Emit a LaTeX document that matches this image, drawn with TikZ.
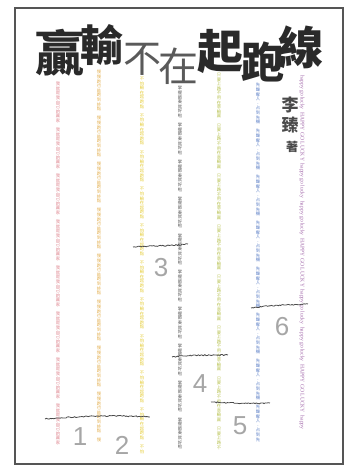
\documentclass[tikz,border=0pt]{standalone}
\usepackage{fontspec}
\setmainfont{Liberation Serif}
\newfontfamily\cjk{Noto Sans CJK TC}
\newfontfamily\numfont{Liberation Sans}
\usetikzlibrary{decorations.pathmorphing}
\definecolor{titledark}{HTML}{2A2A2A}
\definecolor{titlelight}{HTML}{5A5A5A}
\definecolor{frame}{HTML}{555555}
\definecolor{cred}{HTML}{DE828C}
\definecolor{corange}{HTML}{E4B050}
\definecolor{cyellow}{HTML}{E6CE3C}
\definecolor{cdark}{HTML}{555555}
\definecolor{cgreen}{HTML}{B8C250}
\definecolor{cblue}{HTML}{5A7EC6}
\definecolor{cpurple}{HTML}{A66EAE}
\definecolor{numgray}{HTML}{A6A6A6}
\definecolor{pencil}{HTML}{4A4A4A}
% stack characters one under another
\def\vsloop#1{\ifx\relax#1\else\hbox to 4.6pt{\hss#1\hss}\expandafter\vsloop\fi}
\newcommand\colstack[3]{\vbox{\baselineskip=4.6pt\lineskiplimit=-20pt\lineskip=0pt
  \foreach \k in {1,...,#1}{\vsloop #2\relax}\vsloop #3\relax}}
\tikzset{
  ttl/.style={inner sep=0pt, font=\cjk\bfseries\fontsize{#1}{#1}\selectfont, text=titledark},
  ttllight/.style={inner sep=0pt, font=\cjk\fontsize{#1}{#1}\selectfont, text=titlelight},
  author/.style={inner sep=0pt, font=\cjk\bfseries\fontsize{#1}{#1}\selectfont, text=titledark!85},
  col/.style={inner sep=0pt, anchor=north,
    font=\cjk\fontsize{4.3}{4.6}\selectfont, text=#1},
  num/.style={inner sep=0pt, font=\numfont\fontsize{26}{26}\selectfont, text=numgray},
  scrib/.style={draw=pencil, line width=0.8pt, decorate,
    decoration={random steps, segment length=1.3pt, amplitude=0.55pt}},
}
\begin{document}
\begin{tikzpicture}[x=1pt,y=-1pt]
\useasboundingbox (0,0) rectangle (347,466);
\fill[white] (0,0) rectangle (347,466);
\draw[frame, line width=1.6pt] (15,8) rectangle (343,464);
\pgfmathsetseed{7}
% vertical text columns
\node[col=cred] (c1) at (58,82) {\colstack{8}{我就是我自己的贏家　}{}};
\node[col=corange] (c2) at (99,70) {\colstack{8}{慢慢跑也能跑到終點　}{慢}};
\node[col=cyellow] (c3) at (142,77) {\colstack{10}{不怕輸在起跑點　}{不怕}};
\node[col=cdark] (c4) at (180,86) {\colstack{9}{掌握節奏就好啦　}{掌握節奏就好啦}};
\node[col=cgreen] (c5) at (219,73) {\colstack{7}{只要上路不用在意輸贏　}{只要上路不}};
\node[col=cblue] (c6) at (258,83) {\colstack{7}{先聲奪人．占到先機　}{先聲奪人．占到先}};
\node[rotate=-90, anchor=west, inner sep=0pt, text=cpurple, font=\fontsize{5.6}{6}\selectfont] (c7) at (302,75)
  {happy go lucky\enspace HAPPY GO LUCKY\enspace happy go lucky\enspace happy go lucky\enspace HAPPY GO LUCKY\enspace happy go lucky\enspace happy go lucky\enspace HAPPY GO LUCKY\enspace happy};
% title
\node[ttl=49] (t1) at (60,53) {贏};
\node[ttl=43] (t2) at (102,45) {輸};
\node[ttllight=38] (t3) at (142,59) {不};
\node[ttllight=40] (t4) at (178,66) {在};
\node[ttl=46] (t5) at (220,51) {起};
\node[ttl=43] (t6) at (263,62) {跑};
\node[ttl=45] (t7) at (301,47) {線};
% author
\node[author=17] (a1) at (290,105) {李};
\node[author=17] (a2) at (290,125) {臻};
\node[author=12] (a3) at (292,147) {著};
% pencil lines
\draw[scrib] (133,247) .. controls (150,246) and (170,246) .. (188,244);
\draw[scrib] (45,419) .. controls (80,416) and (120,415) .. (150,417);
\draw[scrib] (172,357) .. controls (190,355) and (210,355) .. (228,355);
\draw[scrib] (211,402) .. controls (230,403) and (250,404) .. (270,403);
\draw[scrib] (251,308) .. controls (270,305) and (290,305) .. (308,304);
% numbers
\node[num] (n1) at (80,437) {1};
\node[num] (n2) at (122,445) {2};
\node[num] (n3) at (161,268) {3};
\node[num] (n4) at (200,384) {4};
\node[num] (n5) at (240,426) {5};
\node[num] (n6) at (282,327) {6};
\end{tikzpicture}
\end{document}
